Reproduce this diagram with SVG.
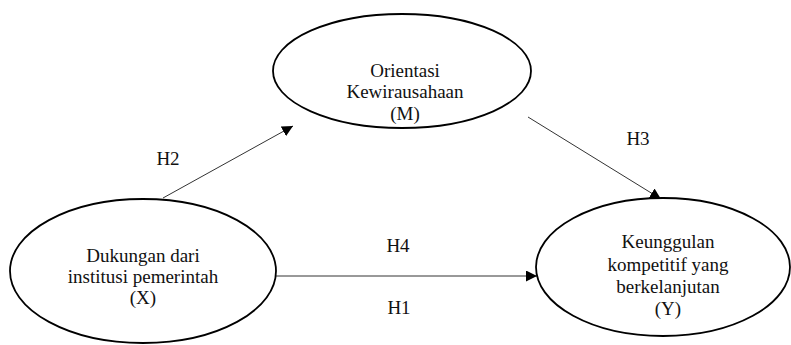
<svg xmlns="http://www.w3.org/2000/svg" width="791" height="345" viewBox="0 0 791 345">
<style>
.node ellipse{fill:#fff;stroke:#000;stroke-width:1.8}
.t{font-family:'Liberation Serif','Times New Roman',Times,serif;font-size:19px;fill:#111;text-anchor:middle}
.edge line{stroke:#333;stroke-width:1}
</style>
<defs>
<marker id="arr" viewBox="0 0 10 10" refX="10" refY="5" markerWidth="11" markerHeight="11" markerUnits="userSpaceOnUse" orient="auto">
<path d="M0,0 L10,5 L0,10 z" fill="#000"/>
</marker>
</defs>
<rect width="791" height="345" fill="#fff"/>
<g id="connectors" class="edge">
<line x1="163" y1="198" x2="293" y2="126" marker-end="url(#arr)"/>
<line x1="528" y1="117" x2="661" y2="199" marker-end="url(#arr)"/>
<line x1="276" y1="276" x2="537" y2="276" marker-end="url(#arr)"/>
</g>
<g id="node-M" class="node">
<ellipse cx="402" cy="71" rx="129" ry="57"/>
<g class="t">
<text x="405" y="77">Orientasi</text>
<text x="405" y="98">Kewirausahaan</text>
<text x="405" y="120">(M)</text>
</g>
</g>
<g id="node-X" class="node">
<ellipse cx="143" cy="271" rx="133" ry="72"/>
<g class="t">
<text x="143" y="262">Dukungan dari</text>
<text x="143" y="283">institusi pemerintah</text>
<text x="143" y="304">(X)</text>
</g>
</g>
<g id="node-Y" class="node">
<ellipse cx="663" cy="267" rx="127" ry="69"/>
<g class="t">
<text x="668" y="248">Keunggulan</text>
<text x="668" y="271">kompetitif yang</text>
<text x="668" y="293">berkelanjutan</text>
<text x="668" y="315">(Y)</text>
</g>
</g>
<g id="labels" class="t">
<text x="168" y="165">H2</text>
<text x="638" y="145">H3</text>
<text x="398" y="252">H4</text>
<text x="399" y="314">H1</text>
</g>
</svg>
